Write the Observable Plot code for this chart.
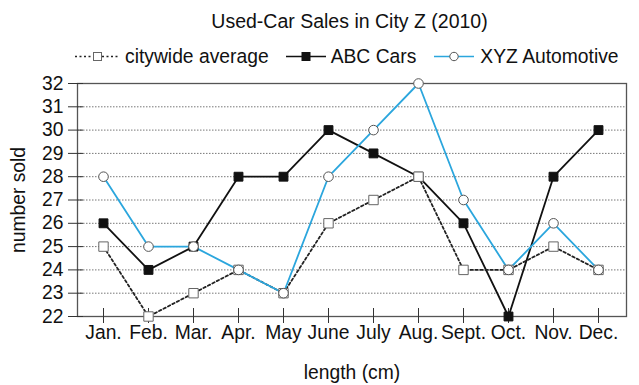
<!DOCTYPE html>
<html><head><meta charset="utf-8">
<script src="https://cdn.jsdelivr.net/npm/d3@7"></script>
<script src="https://cdn.jsdelivr.net/npm/@observablehq/plot@0.6"></script>
<style>
body{margin:0;background:#fff;font-family:"Liberation Sans",Arial,sans-serif;color:#111}
#wrap{width:639px;height:385px;position:relative;overflow:hidden;background:#fff}
#title{position:absolute;left:60px;width:579px;top:12px;text-align:center;font-size:19.5px;line-height:19px;z-index:2}
#legend{position:absolute;left:75px;top:47px;display:flex;align-items:center;font-size:19.3px;line-height:19px;z-index:2;white-space:nowrap}
#legend .item{display:flex;align-items:center}
#legend svg{display:block}
#chart{position:absolute;left:0;top:0}
</style>
</head><body>
<div id="wrap">
  <div id="title"></div>
  <div id="legend"></div>
  <div id="chart"></div>
</div>
<script>
const titleText = "Used-Car Sales in City Z (2010)";
const months = ["Jan.","Feb.","Mar.","Apr.","May","June","July","Aug.","Sept.","Oct.","Nov.","Dec."];
const citywide = [25,22,23,24,23,26,27,28,24,24,25,24];
const abcCars = [26,24,25,28,28,30,29,28,26,22,28,30];
const xyzAuto = [28,25,25,24,23,28,30,32,27,24,26,24];
const yTicks = [22,23,24,25,26,27,28,29,30,31,32];
const seriesNames = ["citywide average","ABC Cars","XYZ Automotive"];

const BLUE = "#2ba6dd";
const FONT = '"Liberation Sans", Arial, sans-serif';

document.getElementById("title").textContent = titleText;

// Legend
const legend = document.getElementById("legend");
const swatches = [
  {w:45, dash:"2,2.5", stroke:"#222", sym:"square", fill:"#fff", symStroke:"#666"},
  {w:40, dash:null, stroke:"#111", sym:"square", fill:"#111", symStroke:"#111"},
  {w:40, dash:null, stroke:BLUE, sym:"circle", fill:"#fff", symStroke:"#555"}
];
const gaps = [17, 18, 0];
seriesNames.forEach((name, i) => {
  const s = swatches[i];
  const item = document.createElement("div");
  item.className = "item";
  item.style.marginRight = gaps[i] + "px";
  const ns = "http://www.w3.org/2000/svg";
  const svg = document.createElementNS(ns, "svg");
  svg.setAttribute("width", s.w); svg.setAttribute("height", 19);
  const ln = document.createElementNS(ns, "line");
  ln.setAttribute("x1", 0); ln.setAttribute("x2", s.w);
  ln.setAttribute("y1", 9.5); ln.setAttribute("y2", 9.5);
  ln.setAttribute("stroke", s.stroke); ln.setAttribute("stroke-width", 1.7);
  if (s.dash) ln.setAttribute("stroke-dasharray", s.dash);
  svg.appendChild(ln);
  let m;
  if (s.sym === "square") {
    m = document.createElementNS(ns, "rect");
    m.setAttribute("x", s.w/2 - 4); m.setAttribute("y", 5.5);
    m.setAttribute("width", 8); m.setAttribute("height", 8);
  } else {
    m = document.createElementNS(ns, "circle");
    m.setAttribute("cx", s.w/2); m.setAttribute("cy", 9.5); m.setAttribute("r", 4.2);
  }
  m.setAttribute("fill", s.fill); m.setAttribute("stroke", s.symStroke); m.setAttribute("stroke-width", 1);
  svg.appendChild(m);
  item.appendChild(svg);
  const t = document.createElement("span");
  t.textContent = name;
  t.style.marginLeft = (i === 2 ? 6 : 5) + "px";
  item.appendChild(t);
  legend.appendChild(item);
});

const yOf = arr => (d, i) => arr[i];

const chart = Plot.plot({
  width: 639,
  height: 385,
  marginTop: 83,
  marginBottom: 69,
  marginLeft: 77,
  marginRight: 13,
  style: {fontFamily: FONT, fontSize: "19.3px", color: "#111", background: "transparent"},
  x: {type: "point", domain: months, padding: 0.5, insetLeft: -2, insetRight: 1, label: null},
  y: {domain: [22, 32], ticks: yTicks, label: null},
  marks: [
    Plot.gridY(yTicks, {stroke: "#777", strokeOpacity: 1, strokeDasharray: "1.5,1.5", strokeWidth: 1}),
    Plot.frame({stroke: "#555", strokeWidth: 1.3}),
    Plot.axisY(yTicks, {tickSize: 15, dx: 6, text: null, label: null, stroke: "#333"}),
    Plot.axisY(yTicks, {tickSize: 0, tickPadding: 14, fontSize: 19.3, label: "number sold", labelAnchor: "center", labelArrow: "none", labelOffset: 66}),
    Plot.axisX({tickSize: 15, dy: -8, text: null, label: null, stroke: "#333"}),
    Plot.axisX({tickSize: 0, tickPadding: 9, fontSize: 19.3, label: "length (cm)", labelAnchor: "center", labelArrow: "none", labelOffset: 62}),
    Plot.line(months, {x: d => d, y: yOf(abcCars), stroke: "#111", strokeWidth: 1.8}),
    Plot.line(months, {x: d => d, y: yOf(citywide), stroke: "#222", strokeWidth: 1.8, strokeDasharray: "2.5,2.5"}),
    Plot.line(months, {x: d => d, y: yOf(xyzAuto), stroke: BLUE, strokeWidth: 1.8}),
    Plot.dot(months, {x: d => d, y: yOf(abcCars), symbol: "square", r: 5, fill: "#111", stroke: "#111", strokeWidth: 1}),
    Plot.dot(months, {x: d => d, y: yOf(citywide), symbol: "square", r: 5.3, fill: "#fff", stroke: "#666", strokeWidth: 1}),
    Plot.dot(months, {x: d => d, y: yOf(xyzAuto), symbol: "circle", r: 4.8, fill: "#fff", stroke: "#555", strokeWidth: 1})
  ]
});
document.getElementById("chart").appendChild(chart);
</script>
</body></html>
